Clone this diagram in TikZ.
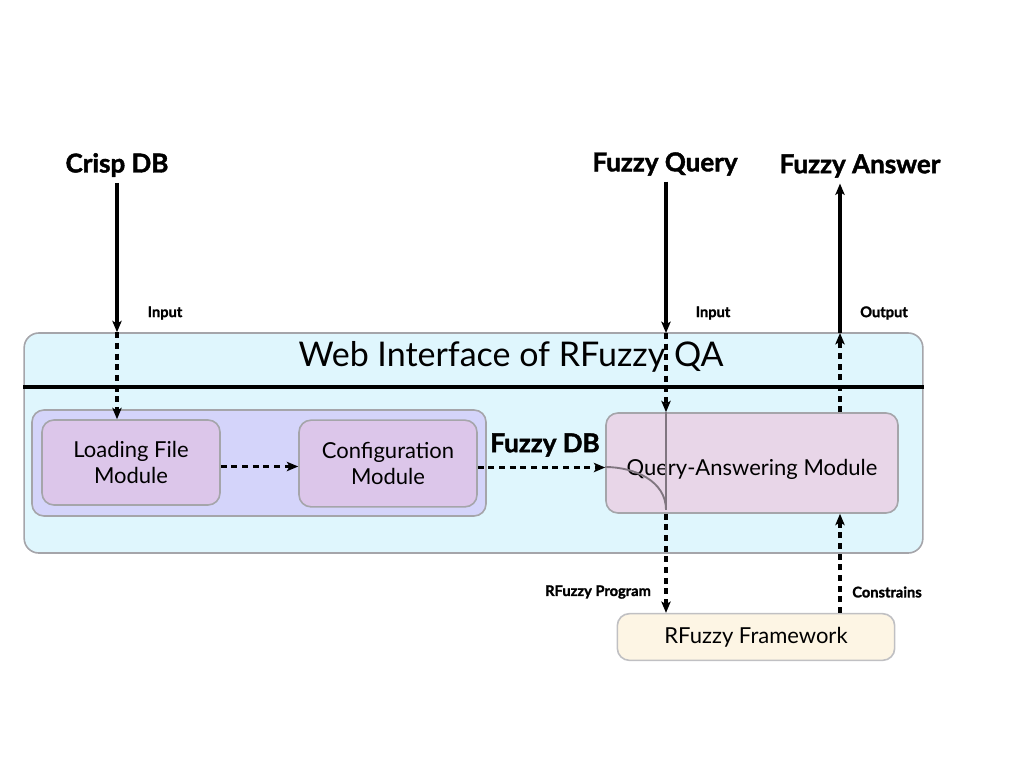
\documentclass[tikz,border=0pt]{standalone}
\usepackage{fontspec}
\setmainfont{Lato}
\newfontfamily\heavyfont{Lato}[BoldFeatures={FakeBold=1.6}]
\usepackage{tikz}
\usetikzlibrary{arrows, arrows.meta}
\usetikzlibrary{shapes, positioning, calc}
\definecolor{webfill}{RGB}{223,246,253}
\definecolor{groupfill}{RGB}{212,212,250}
\definecolor{modfill}{RGB}{220,198,234}
\definecolor{qafill}{RGB}{232,214,232}
\definecolor{fwfill}{RGB}{253,245,228}
\definecolor{boxline}{RGB}{165,165,170}
\definecolor{curveline}{RGB}{128,118,128}

\begin{document}
\begin{tikzpicture}[x=0.75pt,y=-0.75pt,>={Stealth[length=8.5pt,width=7pt,inset=2pt]},line width=2.3pt,
  box node/.style={rectangle, rounded corners=9pt, draw=boxline, line width=1.2pt, align=center, font=\fontsize{16.5}{19.5}\selectfont},
  big label/.style={font=\fontsize{19.5}{22}\selectfont\heavyfont\bfseries},
  small label/.style={font=\fontsize{11}{13}\selectfont\heavyfont\bfseries},
  dash line/.style={dash pattern=on 4.5pt off 3.5pt}]
  \useasboundingbox (0,0) rectangle (1024,768);
  % boxes
  \node[box node, rounded corners=11pt, fill=webfill, minimum width=674pt, minimum height=165pt] (web) at (473.5,443) {};
  \draw[line width=2.3pt] (web.west |- 0,387) -- (web.east |- 0,387);
  \node[font=\fontsize{25.5}{30}\selectfont] (title) at (511,357) {Web Interface of RFuzzy QA};
  \node[box node, fill=groupfill, minimum width=340.5pt, minimum height=79.5pt] (group) at (259,463) {};
  \node[box node, fill=modfill, minimum width=133.5pt, minimum height=63.75pt] (load) at (131,462.5) {Loading File\\Module};
  \node[box node, fill=modfill, minimum width=133.5pt, minimum height=65pt] (conf) at (388,463.5) {Configuration\\Module};
  \node[box node, fill=qafill, minimum width=219pt, minimum height=75pt] (qa) at (752,463) {\raisebox{-9pt}[0pt][0pt]{Query-Answering Module}};
  \node[box node, draw=boxline!70, fill=fwfill, minimum width=208pt, minimum height=35pt] (fw) at (756,637) {RFuzzy Framework};
  % labels
  \node[big label] (crisp) at (117,165) {Crisp DB};
  \node[big label] (query) at (665,164) {Fuzzy Query};
  \node[big label] (answer) at (860,166) {Fuzzy Answer};
  \node[big label] (fuzzydb) at (545,445) {Fuzzy DB};
  \node[small label] (input1) at (165,313) {Input};
  \node[small label] (input2) at (713,313) {Input};
  \node[small label] (output) at (884,313) {Output};
  \node[small label] (prog) at (598,592) {RFuzzy Program};
  \node[small label] (cons) at (887,592) {Constrains};
  \coordinate (in) at (666,333);
  \coordinate (out) at (840,333);
  % connectors
  \draw[->] (crisp.south) -- (crisp |- web.north);
  \draw[->, dash line] (crisp |- web.north) -- (crisp |- load.north);
  \draw[->, dash line] ([yshift=-3pt]load.east) -- ([yshift=-3pt]load.east -| conf.west);
  \draw[->, dash line] ([yshift=-3pt]conf.east) -- ([yshift=-3pt]conf.east -| qa.west);
  \draw[->] (query.south -| in) -- (in);
  \draw[->, dash line] (in) -- (in |- qa.north);
  \draw[curveline, line width=1.4pt] (in |- qa.north) -- ([yshift=3pt]in |- qa.south);
  \draw[curveline, line width=1.4pt] ([yshift=-3pt]qa.west) to[out=0,in=90] ([yshift=3pt]in |- qa.south);
  \draw[->, dash line] (in |- qa.south) -- (in |- fw.north);
  \draw[->, dash line] (out |- fw.north) -- (out |- qa.south);
  \draw[->, dash line] (out |- qa.north) -- (out);
  \draw[->] (out) -- (out |- answer.south);
\end{tikzpicture}
\end{document}
